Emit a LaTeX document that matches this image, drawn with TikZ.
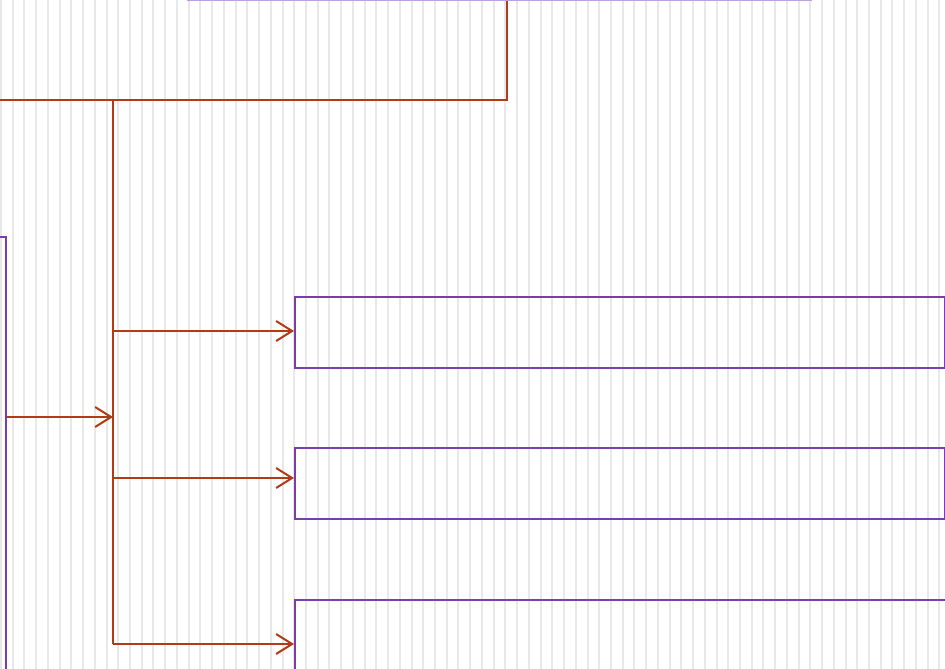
\documentclass[tikz,border=0pt]{standalone}
\usetikzlibrary{arrows.meta}
\definecolor{linkbrown}{RGB}{178,58,20}
\definecolor{boxpurple}{RGB}{122,62,172}
\definecolor{boxlilac}{RGB}{190,160,222}
\definecolor{stripegray}{RGB}{232,232,232}

\tikzset{
  panel/.style={draw=boxpurple, line width=2pt, rectangle, inner sep=0pt},
  link/.style={draw=linkbrown, line width=2pt},
  linkarrow/.style={link, -{Straight Barb[length=16pt,width=20pt,line width=2pt]}}
}

\begin{document}
\begin{tikzpicture}[x=1pt,y=-1pt]
\useasboundingbox (0,0) rectangle (945,669);
\clip (0,0) rectangle (945,669);

% striped background
\foreach \i in {0,...,80}
  \fill[stripegray] ({11.73*\i},0) rectangle ({11.73*\i+2},669);

% boxes
\node[panel, draw=boxlilac, minimum width=623pt, minimum height=80pt, anchor=south west] (head) at (187,1) {};
\node[panel, minimum width=200pt, minimum height=500pt, anchor=north east] (src) at (7,236) {};
\node[panel, minimum width=650pt, minimum height=71pt, anchor=north west] (optA) at (294,296) {};
\node[panel, minimum width=650pt, minimum height=71pt, anchor=north west] (optB) at (294,447) {};
\node[panel, minimum width=700pt, minimum height=71pt, anchor=north west] (optC) at (294,599) {};

% connectors
\coordinate (drop) at (507,100);
\coordinate (feed) at (-5,100);
\coordinate (fork) at (113,100);
\coordinate (forkend) at (113,644);
\coordinate (join) at (113,417);
\coordinate (tapA) at (113,331);
\coordinate (tapB) at (113,478);
\coordinate (tapC) at (113,644);

\draw[link] (drop |- head.south) -- (drop) -- (feed);
\draw[link] (fork) -- (forkend);
\draw[linkarrow] (src.east |- join) -- (join);
\draw[linkarrow] (tapA) -- (tapA -| optA.west);
\draw[linkarrow] (tapB) -- (tapB -| optB.west);
\draw[linkarrow] (tapC) -- (tapC -| optC.west);
\end{tikzpicture}
\end{document}
